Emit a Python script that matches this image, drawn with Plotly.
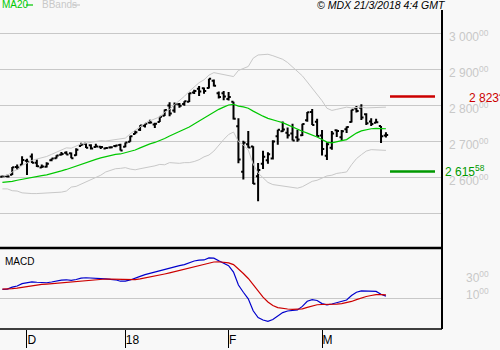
import pandas as pd
import plotly.graph_objects as go

# Trading sessions shown on the chart (US market holidays removed)
holidays = ["2017-12-25", "2018-01-01", "2018-01-15", "2018-02-19"]
sessions = [d.strftime("%Y-%m-%d") for d in pd.bdate_range("2017-11-24", "2018-03-20")
            if d.strftime("%Y-%m-%d") not in holidays]

open_ = [2600.42, 2602.66, 2605.94, 2627.82, 2633.93,
         2645.10, 2657.19, 2639.78, 2626.24, 2628.38, 2646.21, 2652.19, 2661.73, 2667.59, 2665.87, 2660.63,
         2685.92, 2692.71, 2688.18, 2683.02, 2684.22, 2679.09, 2682.10, 2686.10, 2689.15,
         2683.73, 2697.85, 2719.31, 2731.33, 2742.67, 2751.15, 2745.55, 2752.97, 2770.18, 2798.96, 2784.99,
         2802.40, 2802.60, 2809.16, 2835.05, 2845.42, 2846.24, 2847.48, 2867.23, 2832.74, 2832.41,
         2816.45, 2808.92, 2741.06, 2614.78, 2690.95, 2685.01, 2601.78, 2636.75, 2646.27, 2651.21, 2713.46,
         2727.14, 2722.99, 2720.53, 2710.42, 2715.80, 2757.37, 2780.45, 2753.78,
         2715.22, 2658.89, 2681.06, 2730.18, 2710.18, 2732.75, 2752.91, 2790.54, 2792.31, 2774.06, 2754.27,
         2750.57, 2741.38, 2715.05]
high = [2604.21, 2606.41, 2627.69, 2634.89, 2657.74,
        2650.62, 2665.19, 2648.72, 2634.41, 2640.99, 2651.65, 2660.33, 2669.72, 2671.88, 2668.09, 2679.63,
        2694.97, 2694.44, 2691.01, 2692.64, 2685.35, 2682.74, 2685.64, 2687.66, 2692.12,
        2695.89, 2714.37, 2729.29, 2743.45, 2748.51, 2759.14, 2750.80, 2767.56, 2787.85, 2807.54, 2807.04,
        2805.83, 2810.33, 2833.03, 2842.24, 2852.97, 2848.56, 2872.87, 2870.62, 2837.75, 2839.26,
        2835.96, 2808.92, 2763.39, 2701.04, 2727.67, 2685.27, 2638.67, 2672.61, 2668.84, 2702.10, 2731.51,
        2754.42, 2737.60, 2747.75, 2731.26, 2747.76, 2780.64, 2789.15, 2761.52,
        2730.89, 2696.25, 2728.09, 2732.08, 2730.60, 2740.45, 2786.57, 2796.98, 2801.90, 2777.11, 2763.03,
        2761.85, 2741.38, 2724.22]
low = [2600.42, 2598.87, 2605.44, 2620.32, 2633.93,
       2605.52, 2639.03, 2627.73, 2624.75, 2626.53, 2644.10, 2651.47, 2659.78, 2662.85, 2652.01, 2659.14,
       2685.92, 2680.74, 2676.11, 2682.40, 2678.13, 2677.96, 2678.91, 2682.69, 2673.61,
       2682.36, 2697.77, 2719.07, 2727.92, 2737.60, 2747.86, 2736.06, 2752.78, 2769.64, 2768.64, 2778.38,
       2792.56, 2798.08, 2808.12, 2830.59, 2824.81, 2830.94, 2846.18, 2851.48, 2818.27, 2813.04,
       2812.70, 2759.97, 2638.17, 2593.07, 2681.33, 2580.56, 2532.69, 2622.45, 2637.08, 2648.87, 2689.82,
       2725.11, 2706.76, 2701.29, 2697.77, 2713.74, 2753.78, 2744.22, 2713.54,
       2659.65, 2647.32, 2675.75, 2711.26, 2701.74, 2721.94, 2751.54, 2779.26, 2758.68, 2744.38, 2741.47,
       2749.97, 2694.59, 2710.05]
close = [2602.42, 2601.42, 2627.04, 2626.07, 2647.58,
         2642.22, 2639.44, 2629.57, 2629.27, 2636.98, 2651.50, 2659.99, 2664.11, 2662.85, 2652.01, 2675.81,
         2690.16, 2681.47, 2679.25, 2684.57, 2683.34, 2680.50, 2682.62, 2687.54, 2673.61,
         2695.81, 2713.06, 2723.99, 2743.15, 2747.71, 2751.29, 2748.23, 2767.56, 2786.24, 2776.42, 2802.56,
         2798.03, 2810.30, 2832.97, 2839.13, 2837.54, 2839.25, 2872.87, 2853.53, 2822.43, 2823.81,
         2821.98, 2762.13, 2648.94, 2695.14, 2681.66, 2581.00, 2619.55, 2656.00, 2662.94, 2698.63, 2731.20,
         2732.22, 2716.26, 2701.33, 2703.96, 2747.30, 2779.60, 2744.28, 2713.83,
         2677.67, 2691.25, 2720.94, 2728.12, 2726.80, 2738.97, 2786.57, 2783.02, 2765.31, 2749.48, 2747.33,
         2752.01, 2712.92, 2716.94]

ma20 = [2585, 2586, 2588, 2591, 2594, 2597, 2600, 2602, 2604, 2606, 2609, 2613, 2617, 2621, 2626, 2630,
        2636, 2641, 2645, 2649, 2653, 2657, 2660, 2663, 2664, 2667, 2671, 2675, 2681, 2687, 2692, 2696,
        2701, 2707, 2714, 2720, 2725, 2732, 2739, 2747, 2755, 2763, 2772, 2781, 2788, 2794, 2800, 2802,
        2797, 2795, 2791, 2783, 2775, 2769, 2763, 2758, 2755, 2751, 2745, 2738, 2731, 2727, 2722, 2717,
        2711, 2704, 2697, 2695, 2699, 2701, 2704, 2713, 2722, 2728, 2732, 2734, 2735, 2734, 2734]
bb_upper = [2603, 2605, 2614, 2621, 2632, 2640, 2646, 2650, 2653, 2657, 2663, 2669, 2676, 2681, 2680, 2686,
            2692, 2694, 2697, 2700, 2701, 2700, 2702, 2703, 2704, 2708, 2720, 2730, 2739, 2749, 2756, 2761,
            2767, 2780, 2788, 2801, 2812, 2824, 2838, 2851, 2862, 2870, 2883, 2890, 2887, 2884, 2882, 2879,
            2896, 2901, 2907, 2930, 2939, 2940, 2941, 2937, 2933, 2927, 2918, 2906, 2893, 2881, 2864, 2846,
            2831, 2812, 2791, 2785, 2788, 2790, 2794, 2792, 2793, 2794, 2792, 2792, 2794, 2794, 2794]
bb_lower = [2567, 2567, 2562, 2561, 2556, 2554, 2554, 2554, 2555, 2555, 2555, 2557, 2558, 2561, 2572, 2574,
            2580, 2588, 2593, 2598, 2605, 2614, 2618, 2623, 2624, 2626, 2622, 2620, 2623, 2625, 2628, 2631,
            2635, 2634, 2640, 2639, 2638, 2640, 2640, 2643, 2648, 2656, 2661, 2672, 2689, 2704, 2718, 2725,
            2698, 2689, 2675, 2636, 2611, 2598, 2585, 2579, 2577, 2575, 2572, 2570, 2569, 2573, 2580, 2588,
            2591, 2596, 2603, 2605, 2610, 2612, 2614, 2634, 2651, 2662, 2672, 2676, 2676, 2674, 2674]

macd = [10.8, 11.1, 13.3, 14.7, 17.4, 18.9, 19.6, 19.1, 18.6, 18.5, 19.4, 20.6, 21.6, 22.0, 21.2, 22.3,
        24.0, 24.4, 24.2, 24.2, 23.9, 23.1, 22.4, 22.0, 20.3, 20.5, 21.8, 23.5, 26.0, 28.1, 29.7, 30.4,
        32.1, 34.5, 35.3, 37.6, 38.6, 39.9, 42.3, 44.1, 45.0, 45.3, 47.7, 47.4, 44.3, 41.4, 38.5, 31.0,
        15.8, 7.3, -0.4, -14.5, -22.4, -25.3, -26.8, -24.8, -20.3, -16.6, -14.7, -14.2, -13.5, -9.3, -3.3, -1.4,
        -2.4, -6.0, -7.6, -6.5, -4.9, -3.8, -1.8, 3.5, 7.4, 8.9, 8.7, 8.3, 8.3, 5.0, 2.7]
macd_signal = [11.1, 11.1, 11.5, 12.2, 13.2, 14.4, 15.4, 16.1, 16.6, 17.0, 17.5, 18.1, 18.8, 19.4, 19.8, 20.3,
               21.0, 21.7, 22.2, 22.6, 22.9, 22.9, 22.8, 22.7, 22.2, 21.9, 21.8, 22.2, 23.0, 24.0, 25.1, 26.2,
               27.4, 28.8, 30.1, 31.6, 33.0, 34.4, 35.9, 37.6, 39.1, 40.3, 41.8, 42.9, 43.2, 42.8, 41.9, 39.8,
               35.0, 29.4, 23.5, 15.9, 8.2, 1.5, -4.1, -8.3, -10.7, -11.9, -12.4, -12.8, -12.9, -12.2, -10.4, -8.6,
               -7.4, -7.1, -7.2, -7.1, -6.6, -6.1, -5.2, -3.5, -1.3, 0.7, 2.3, 3.5, 4.5, 4.6, 4.2]

# Axis ticks
month_ticks = ["2017-12-01", "2018-01-02", "2018-02-01", "2018-03-01"]
month_labels = ["D", "18", "F", "M"]
price_ticks = [2500, 2600, 2700, 2800, 2900, 3000]
price_labels = ["", "2 600<sup>00</sup>", "2 700<sup>00</sup>", "2 800<sup>00</sup>",
                "2 900<sup>00</sup>", "3 000<sup>00</sup>"]
macd_ticks = [10, 30]
macd_labels = ["10<sup>00</sup>", "30<sup>00</sup>"]

# Horizontal resistance / support levels
level_values = [2823.40, 2615.58]
level_labels = ["2 823<sup>40</sup>", "2 615<sup>58</sup>"]
level_colors = ["#cc0000", "#009900"]
level_label_x = [467, 443]

FONT = "Liberation Sans, Arial, sans-serif"
BG = "#f8f8f8"
GRID = "#c8c8c8"
W_PLOT, H_PLOT = 442, 329  # plot area in pixels


def px_x(p):
    return p / W_PLOT


def px_y(p):
    return (H_PLOT - p) / H_PLOT


fig = go.Figure()
fig.add_trace(go.Scatter(x=sessions, y=bb_upper, mode="lines", line=dict(color=GRID, width=1),
                         xaxis="x", yaxis="y", hoverinfo="skip"))
fig.add_trace(go.Scatter(x=sessions, y=bb_lower, mode="lines", line=dict(color=GRID, width=1),
                         xaxis="x", yaxis="y", hoverinfo="skip"))
fig.add_trace(go.Scatter(x=sessions, y=ma20, mode="lines", line=dict(color="#00c800", width=1.2),
                         xaxis="x", yaxis="y"))
fig.add_trace(go.Ohlc(x=sessions, open=open_, high=high, low=low, close=close, xaxis="x", yaxis="y",
                      tickwidth=0.45,
                      increasing=dict(line=dict(color="black", width=2)),
                      decreasing=dict(line=dict(color="black", width=2))))
fig.add_trace(go.Scatter(x=sessions, y=macd, mode="lines", line=dict(color="#0000cc", width=1.2),
                         xaxis="x2", yaxis="y2"))
fig.add_trace(go.Scatter(x=sessions, y=macd_signal, mode="lines", line=dict(color="#cc0000", width=1.2),
                         xaxis="x2", yaxis="y2"))

shapes = [
    # right-hand axis line, panel separator and bottom border
    dict(type="line", xref="paper", yref="paper", x0=1, x1=1, y0=0, y1=px_y(10),
         line=dict(color="black", width=2)),
    dict(type="line", xref="paper", yref="paper", x0=0, x1=1, y0=px_y(248), y1=px_y(248),
         line=dict(color="black", width=2.5)),
    dict(type="line", xref="paper", yref="paper", x0=0, x1=1, y0=0, y1=0,
         line=dict(color="black", width=1.5)),
    # legend swatches
    dict(type="line", xref="paper", yref="paper", x0=px_x(26), x1=px_x(33), y0=px_y(5), y1=px_y(5),
         line=dict(color="#00c800", width=1.2)),
    dict(type="line", xref="paper", yref="paper", x0=px_x(72), x1=px_x(80), y0=px_y(5), y1=px_y(5),
         line=dict(color=GRID, width=1.2)),
]
annotations = [
    dict(text="MA20", x=0, y=px_y(5), xanchor="left", yanchor="middle"),
    dict(text="BBands", x=px_x(40), y=px_y(5), xanchor="left", yanchor="middle"),
    dict(text="<i>© MDX 21/3/2018 4:4 GMT</i>", x=px_x(448), y=px_y(5), xanchor="right", yanchor="middle"),
    dict(text="MACD", x=px_x(3), y=px_y(261), xanchor="left", yanchor="middle"),
]
ann_colors = ["#00c800", GRID, "black", "black"]
ann_sizes = [10, 10, 10.5, 10]
for a, c, s in zip(annotations, ann_colors, ann_sizes):
    a.update(xref="paper", yref="paper", showarrow=False, font=dict(family=FONT, size=s, color=c))

for val, lab, col, lx in zip(level_values, level_labels, level_colors, level_label_x):
    shapes.append(dict(type="line", xref="paper", yref="y", x0=px_x(390), x1=px_x(435), y0=val, y1=val,
                       line=dict(color=col, width=2.5)))
    annotations.append(dict(text=lab, xref="paper", yref="y", x=px_x(lx), y=val, xanchor="left",
                            yanchor="middle", showarrow=False, font=dict(family=FONT, size=12, color=col)))

fig.update_layout(
    width=500, height=350,
    margin=dict(l=0, r=500 - W_PLOT, t=0, b=350 - H_PLOT),
    paper_bgcolor=BG, plot_bgcolor=BG, showlegend=False,
    font=dict(family=FONT),
    xaxis=dict(type="category", range=[-0.49, 89.4], domain=[0, 1], anchor="y",
               showticklabels=False, showgrid=False, zeroline=False, ticks="",
               rangeslider=dict(visible=False)),
    xaxis2=dict(type="category", matches="x", anchor="y2", domain=[0, 1], showgrid=False, zeroline=False,
                tickmode="array", tickvals=month_ticks, ticktext=month_labels,
                ticks="outside", ticklen=18, tickwidth=1, tickcolor="black",
                ticklabelposition="outside right", ticklabelstandoff=0,
                tickfont=dict(family=FONT, size=12, color="black")),
    yaxis=dict(domain=[px_y(248), 1], range=[2402.8, 3091.7], side="right", anchor="x",
               tickmode="array", tickvals=price_ticks, ticktext=price_labels,
               showgrid=True, gridcolor=GRID, gridwidth=1, zeroline=False, ticks="",
               ticklabelshift=4, ticklabelstandoff=6, automargin=False,
               tickfont=dict(family=FONT, size=12, color=GRID)),
    yaxis2=dict(domain=[0, px_y(249)], range=[-35.9, 58.2], side="right", anchor="x2",
                tickmode="array", tickvals=macd_ticks, ticktext=macd_labels,
                showgrid=False, zeroline=True, zerolinecolor=GRID, zerolinewidth=1, ticks="",
                ticklabelshift=5, ticklabelstandoff=23, automargin=False,
                tickfont=dict(family=FONT, size=12, color=GRID)),
    shapes=shapes, annotations=annotations,
)
fig.write_html("out.html")
